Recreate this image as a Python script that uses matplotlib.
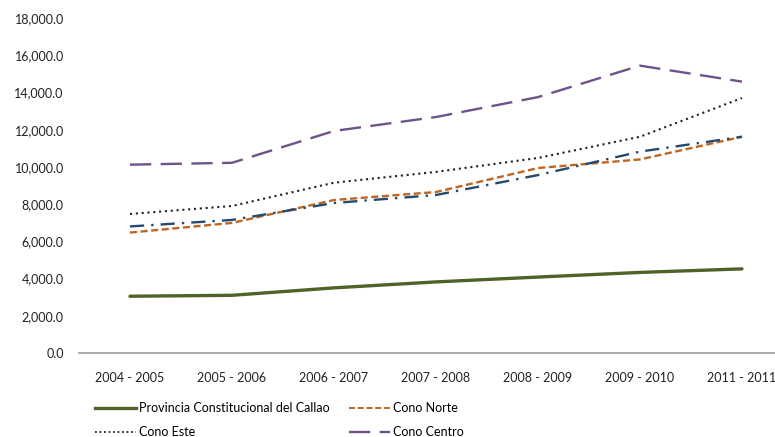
import matplotlib
matplotlib.use("Agg")
import matplotlib.pyplot as plt
from matplotlib.lines import Line2D
from matplotlib.ticker import FuncFormatter

categories = ["2004 - 2005", "2005 - 2006", "2006 - 2007", "2007 - 2008",
              "2008 - 2009", "2009 - 2010", "2011 - 2011"]
callao = [3050, 3100, 3500, 3820, 4080, 4330, 4520]
cono_norte = [6470, 6990, 8220, 8650, 9940, 10400, 11620]
cono_este = [7470, 7900, 9150, 9730, 10480, 11620, 13700]
cono_centro = [10120, 10220, 11930, 12680, 13750, 15440, 14580]
cono_sur = [6800, 7150, 8060, 8490, 9560, 10820, 11620]
yticks = [0, 2000, 4000, 6000, 8000, 10000, 12000, 14000, 16000, 18000]

plt.rcParams['font.family'] = ['Lato', 'DejaVu Sans']

W, H = 775, 437
fig = plt.figure(figsize=(W / 100, H / 100), dpi=100)
left, right, top, bottom = 79, 793, 18, 353
ax = fig.add_axes([left / W, 1 - bottom / H, (right - left) / W, (bottom - top) / H])

x = list(range(len(categories)))
green = "#4F6228"
orange = "#C0651F"
purple = "#6E5288"
blue = "#254A70"

ax.plot(x, callao, color=green, lw=2.4, solid_capstyle='round')
ax.plot(x, cono_norte, color=orange, lw=1.7, ls=(0, (3, 1.5)))
ax.plot(x, cono_este, color="#222222", lw=1.5, ls=(0, (1, 1.8)))
ax.plot(x, cono_centro, color=purple, lw=1.7, ls=(0, (9, 4)))
ax.plot(x, cono_sur, color=blue, lw=1.7, ls=(0, (6, 3, 1, 3)))

ax.set_xlim(-0.5, len(categories) - 0.5)
ax.set_ylim(0, 18000)
ax.set_yticks(yticks)
ax.yaxis.set_major_formatter(FuncFormatter(lambda v, p: f"{v:,.1f}"))
ax.set_xticks(x)
ax.set_xticklabels(categories)
ax.tick_params(axis='both', length=0, labelsize=9, colors="#222222")
ax.tick_params(axis='y', pad=11)
ax.tick_params(axis='x', pad=14)
for s in ['left', 'right', 'top']:
    ax.spines[s].set_visible(False)
ax.spines['bottom'].set_color("#999999")
ax.spines['bottom'].set_linewidth(1.2)

handles = [
    Line2D([], [], color=green, lw=2.4),
    Line2D([], [], color="#222222", lw=1.3, ls=(0, (1, 1.5))),
    Line2D([], [], color=orange, lw=1.4, ls=(0, (3, 1.5))),
    Line2D([], [], color=purple, lw=1.7, ls=(0, (9, 4))),
]
labels = ["Provincia Constitucional del Callao", "Cono Este", "Cono Norte", "Cono Centro"]
fig.legend(handles, labels, ncol=2, loc='upper left',
           bbox_to_anchor=(95 / W, 1 - 402 / H), frameon=False, fontsize=9,
           handlelength=3.3, handletextpad=0.25, columnspacing=1.5,
           labelspacing=0.95, borderpad=0, borderaxespad=0)

fig.savefig("out.png", dpi=100)
